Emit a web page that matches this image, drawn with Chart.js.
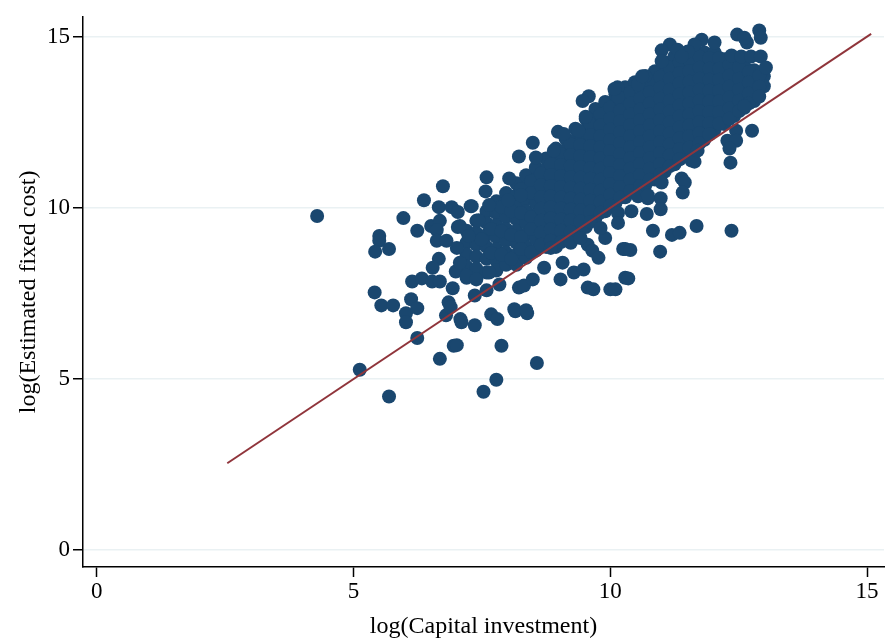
<!DOCTYPE html>
<html>
<head>
<meta charset="utf-8">
<script src="https://cdn.jsdelivr.net/npm/chart.js@4"></script>
<style>
  html, body { margin: 0; padding: 0; background: #fff; }
  #wrap { width: 891px; height: 642px; }
</style>
</head>
<body>
<div id="wrap"><canvas id="scatterChart" width="891" height="642"></canvas></div>
<script>
// axis ticks
const xTicks = [0, 5, 10, 15];
const yTicks = [0, 5, 10, 15];

// 45-degree reference line (x = y), start and end
const fitLine = [2.54, 15.08];

const corePoints = [
  [7.20, 9.33], [7.20, 8.98], [7.20, 8.63], [7.20, 8.28], [7.20, 7.96],
  [7.39, 9.62], [7.39, 9.27], [7.39, 8.92], [7.39, 8.57], [7.39, 8.22],
  [7.59, 9.90], [7.59, 9.56], [7.59, 9.21], [7.59, 8.86], [7.59, 8.51], [7.59, 8.11],
  [7.78, 10.19], [7.78, 9.85], [7.78, 9.50], [7.78, 9.15], [7.78, 8.80], [7.78, 8.46], [7.78, 8.17],
  [7.97, 10.43], [7.97, 10.08], [7.97, 9.73], [7.97, 9.38], [7.97, 9.04], [7.97, 8.69], [7.97, 8.34],
  [8.17, 10.72], [8.17, 10.37], [8.17, 10.02], [8.17, 9.67], [8.17, 9.33], [8.17, 8.98], [8.17, 8.63], [8.17, 8.34],
  [8.36, 10.95], [8.36, 10.60], [8.36, 10.25], [8.36, 9.90], [8.36, 9.56], [8.36, 9.21], [8.36, 8.86], [8.36, 8.54],
  [8.55, 11.18], [8.55, 10.83], [8.55, 10.48], [8.55, 10.14], [8.55, 9.79], [8.55, 9.44], [8.55, 9.09], [8.55, 8.75],
  [8.75, 11.44], [8.75, 11.12], [8.75, 10.80], [8.75, 10.48], [8.75, 10.17], [8.75, 9.85], [8.75, 9.53], [8.75, 9.21], [8.75, 8.86],
  [8.94, 11.73], [8.94, 11.41], [8.94, 11.09], [8.94, 10.77], [8.94, 10.45], [8.94, 10.14], [8.94, 9.82], [8.94, 9.50], [8.94, 9.15], [8.94, 8.86],
  [9.13, 12.02], [9.13, 11.70], [9.13, 11.38], [9.13, 11.06], [9.13, 10.74], [9.13, 10.43], [9.13, 10.11], [9.13, 9.79], [9.13, 9.47], [9.13, 9.12],
  [9.32, 12.31], [9.32, 11.99], [9.32, 11.67], [9.32, 11.35], [9.32, 11.03], [9.32, 10.72], [9.32, 10.40], [9.32, 10.08], [9.32, 9.76], [9.32, 9.44],
  [9.52, 12.60], [9.52, 12.28], [9.52, 11.96], [9.52, 11.64], [9.52, 11.32], [9.52, 11.00], [9.52, 10.69], [9.52, 10.37], [9.52, 10.05], [9.52, 9.73], [9.52, 9.44],
  [9.71, 12.89], [9.71, 12.57], [9.71, 12.25], [9.71, 11.93], [9.71, 11.61], [9.71, 11.29], [9.71, 10.98], [9.71, 10.66], [9.71, 10.34], [9.71, 10.02], [9.71, 9.70],
  [9.90, 13.09], [9.90, 12.77], [9.90, 12.45], [9.90, 12.13], [9.90, 11.82], [9.90, 11.50], [9.90, 11.18], [9.90, 10.86], [9.90, 10.54], [9.90, 10.22], [9.90, 9.90],
  [10.10, 13.32], [10.10, 13.00], [10.10, 12.68], [10.10, 12.37], [10.10, 12.05], [10.10, 11.73], [10.10, 11.41], [10.10, 11.09], [10.10, 10.77], [10.10, 10.45], [10.10, 10.14],
  [10.29, 13.52], [10.29, 13.21], [10.29, 12.89], [10.29, 12.57], [10.29, 12.25], [10.29, 11.93], [10.29, 11.61], [10.29, 11.29], [10.29, 10.98], [10.29, 10.66], [10.29, 10.31],
  [10.48, 13.67], [10.48, 13.35], [10.48, 13.03], [10.48, 12.71], [10.48, 12.40], [10.48, 12.08], [10.48, 11.76], [10.48, 11.44], [10.48, 11.12], [10.48, 10.80], [10.48, 10.48],
  [10.68, 13.84], [10.68, 13.52], [10.68, 13.21], [10.68, 12.89], [10.68, 12.57], [10.68, 12.25], [10.68, 11.93], [10.68, 11.61], [10.68, 11.29], [10.68, 10.98], [10.68, 10.66],
  [10.87, 13.99], [10.87, 13.67], [10.87, 13.35], [10.87, 13.03], [10.87, 12.71], [10.87, 12.40], [10.87, 12.08], [10.87, 11.76], [10.87, 11.44], [10.87, 11.12], [10.87, 10.83],
  [11.06, 14.25], [11.06, 13.93], [11.06, 13.61], [11.06, 13.29], [11.06, 12.97], [11.06, 12.66], [11.06, 12.34], [11.06, 12.02], [11.06, 11.70], [11.06, 11.38], [11.06, 11.06],
  [11.25, 14.42], [11.25, 14.10], [11.25, 13.78], [11.25, 13.47], [11.25, 13.15], [11.25, 12.83], [11.25, 12.51], [11.25, 12.19], [11.25, 11.87], [11.25, 11.56], [11.25, 11.27],
  [11.45, 14.48], [11.45, 14.16], [11.45, 13.84], [11.45, 13.52], [11.45, 13.21], [11.45, 12.89], [11.45, 12.57], [11.45, 12.25], [11.45, 11.93], [11.45, 11.58],
  [11.64, 14.57], [11.64, 14.25], [11.64, 13.93], [11.64, 13.61], [11.64, 13.29], [11.64, 12.97], [11.64, 12.66], [11.64, 12.34], [11.64, 12.02], [11.64, 11.76],
  [11.83, 14.54], [11.83, 14.22], [11.83, 13.90], [11.83, 13.58], [11.83, 13.26], [11.83, 12.95], [11.83, 12.63], [11.83, 12.31], [11.83, 11.99],
  [12.03, 14.54], [12.03, 14.22], [12.03, 13.90], [12.03, 13.58], [12.03, 13.26], [12.03, 12.95], [12.03, 12.63], [12.03, 12.28],
  [12.22, 14.34], [12.22, 14.02], [12.22, 13.70], [12.22, 13.38], [12.22, 13.06], [12.22, 12.74], [12.22, 12.45],
  [12.41, 14.25], [12.41, 13.93], [12.41, 13.61], [12.41, 13.29], [12.41, 12.97], [12.41, 12.68],
  [12.61, 14.13], [12.61, 13.81], [12.61, 13.50], [12.61, 13.18], [12.61, 12.92],
  [12.80, 14.02], [12.80, 13.70], [12.80, 13.38], [12.80, 13.12],
  [12.99, 13.84], [12.99, 13.55]
];

// in-between observations that close the gaps of the core
const coreFill = [
  [7.49, 9.08],
  [7.68, 9.38], [7.68, 8.68],
  [7.88, 10.02], [7.88, 9.32], [7.88, 8.63],
  [8.07, 9.90], [8.07, 9.21], [8.07, 8.51],
  [8.26, 10.55], [8.26, 9.85], [8.26, 9.15], [8.26, 8.80],
  [8.46, 10.78], [8.46, 10.43], [8.46, 9.73], [8.46, 9.38], [8.46, 8.70],
  [8.65, 11.00], [8.65, 10.66], [8.65, 10.31], [8.65, 9.97], [8.65, 9.62], [8.65, 9.27], [8.65, 8.92],
  [8.84, 11.28], [8.84, 10.96], [8.84, 10.64], [8.84, 10.33], [8.84, 10.01], [8.84, 9.69], [8.84, 9.37], [8.84, 9.04],
  [9.04, 11.57], [9.04, 11.25], [9.04, 10.93], [9.04, 10.61], [9.04, 10.30], [9.04, 9.98], [9.04, 9.66], [9.04, 9.33], [9.04, 9.00],
  [9.23, 11.86], [9.23, 11.54], [9.23, 11.22], [9.23, 10.90], [9.23, 10.59], [9.23, 10.27], [9.23, 9.95], [9.23, 9.63], [9.23, 9.30],
  [9.42, 12.15], [9.42, 11.83], [9.42, 11.51], [9.42, 11.19], [9.42, 10.88], [9.42, 10.56], [9.42, 10.24], [9.42, 9.92], [9.42, 9.60],
  [9.61, 12.44], [9.61, 12.12], [9.61, 11.80], [9.61, 11.48], [9.61, 11.16], [9.61, 10.85], [9.61, 10.53], [9.61, 10.21], [9.61, 9.89], [9.61, 9.59],
  [9.81, 12.73], [9.81, 12.41], [9.81, 12.09], [9.81, 11.77], [9.81, 11.45], [9.81, 11.14], [9.81, 10.82], [9.81, 10.50], [9.81, 10.18], [9.81, 9.86],
  [10.00, 12.93], [10.00, 12.61], [10.00, 12.29], [10.00, 11.98], [10.00, 11.66], [10.00, 11.34], [10.00, 11.02], [10.00, 10.70], [10.00, 10.38], [10.00, 10.06],
  [10.19, 13.16], [10.19, 12.84], [10.19, 12.53], [10.19, 12.21], [10.19, 11.89], [10.19, 11.57], [10.19, 11.25], [10.19, 10.93], [10.19, 10.61], [10.19, 10.30],
  [10.39, 13.37], [10.39, 13.05], [10.39, 12.73], [10.39, 12.41], [10.39, 12.09], [10.39, 11.77], [10.39, 11.45], [10.39, 11.14], [10.39, 10.82], [10.39, 10.49],
  [10.58, 13.51], [10.58, 13.19], [10.58, 12.87], [10.58, 12.56], [10.58, 12.24], [10.58, 11.92], [10.58, 11.60], [10.58, 11.28], [10.58, 10.96], [10.58, 10.64],
  [10.77, 13.68], [10.77, 13.37], [10.77, 13.05], [10.77, 12.73], [10.77, 12.41], [10.77, 12.09], [10.77, 11.77], [10.77, 11.45], [10.77, 11.14], [10.77, 10.82],
  [10.97, 13.83], [10.97, 13.51], [10.97, 13.19], [10.97, 12.87], [10.97, 12.56], [10.97, 12.24], [10.97, 11.92], [10.97, 11.60], [10.97, 11.28], [10.97, 10.98],
  [11.16, 14.09], [11.16, 13.77], [11.16, 13.45], [11.16, 13.13], [11.16, 12.82], [11.16, 12.50], [11.16, 12.18], [11.16, 11.86], [11.16, 11.54], [11.16, 11.22],
  [11.35, 14.26], [11.35, 13.94], [11.35, 13.63], [11.35, 13.31], [11.35, 12.99], [11.35, 12.67], [11.35, 12.35], [11.35, 12.03], [11.35, 11.72], [11.35, 11.42],
  [11.54, 14.32], [11.54, 14.00], [11.54, 13.68], [11.54, 13.37], [11.54, 13.05], [11.54, 12.73], [11.54, 12.41], [11.54, 12.09], [11.54, 11.76],
  [11.74, 14.41], [11.74, 14.09], [11.74, 13.77], [11.74, 13.45], [11.74, 13.13], [11.74, 12.82], [11.74, 12.50], [11.74, 12.18], [11.74, 11.89],
  [11.93, 14.38], [11.93, 14.06], [11.93, 13.74], [11.93, 13.42], [11.93, 13.11], [11.93, 12.79], [11.93, 12.47], [11.93, 12.15],
  [12.12, 14.38], [12.12, 14.06], [12.12, 13.74], [12.12, 13.42], [12.12, 13.11], [12.12, 12.79], [12.12, 12.46],
  [12.32, 14.18], [12.32, 13.86], [12.32, 13.54], [12.32, 13.22], [12.32, 12.90], [12.32, 12.60],
  [12.51, 14.09], [12.51, 13.77], [12.51, 13.45], [12.51, 13.13], [12.51, 12.83],
  [12.70, 13.97], [12.70, 13.66], [12.70, 13.34], [12.70, 13.05],
  [12.90, 13.86], [12.90, 13.54], [12.90, 13.25]
];

// scattered observations around the core
const outerPoints = [
  [4.29, 9.76], [5.12, 5.27], [5.69, 4.49], [5.41, 7.53], [5.54, 7.15], [5.77, 7.15],
  [6.02, 6.92], [6.02, 6.66], [6.12, 7.33], [6.24, 7.07], [6.24, 6.20], [6.68, 5.59],
  [6.95, 5.97], [6.37, 10.22], [5.97, 9.70], [6.24, 9.33], [6.66, 10.02], [6.74, 10.63],
  [6.91, 10.02], [7.03, 9.88], [7.03, 9.44], [5.50, 9.18], [5.50, 9.04], [5.42, 8.72],
  [5.69, 8.80], [6.51, 9.47], [6.68, 9.62], [6.62, 9.35], [6.66, 8.51], [6.54, 8.25],
  [6.14, 7.85], [6.33, 7.94], [6.53, 7.85], [6.68, 7.85], [6.93, 7.65], [6.99, 8.14],
  [6.85, 7.24], [6.80, 6.86], [7.08, 6.75], [6.62, 9.04], [6.81, 9.04], [7.01, 8.83],
  [6.89, 7.10], [7.10, 6.66], [7.36, 6.57], [7.68, 6.89], [7.80, 6.75], [7.88, 5.97],
  [8.15, 6.98], [8.38, 6.92], [8.57, 5.47], [7.78, 4.98], [7.53, 4.63], [7.01, 5.99],
  [7.28, 10.05], [8.13, 7.04], [8.36, 7.01], [8.22, 7.67], [8.32, 7.73], [8.49, 7.91],
  [8.71, 8.25], [9.03, 7.91], [9.07, 8.40], [9.29, 8.11], [9.48, 8.20], [9.56, 7.67],
  [9.67, 7.62], [10.00, 7.62], [10.29, 7.96], [9.56, 8.92], [9.65, 8.75], [9.77, 8.54],
  [10.25, 8.80], [10.15, 9.85], [10.15, 9.56], [7.59, 10.89], [8.03, 10.86], [7.57, 10.48],
  [8.01, 10.22], [8.26, 10.37], [7.30, 10.05], [7.64, 10.08], [7.07, 9.47], [7.43, 9.64],
  [7.24, 9.18], [7.07, 8.40], [7.20, 8.02], [7.39, 7.91], [7.64, 8.11], [7.36, 7.44],
  [7.59, 7.59], [7.84, 7.76], [8.84, 8.83], [9.23, 8.98], [9.90, 9.12], [9.81, 9.41],
  [9.42, 9.12],
  [11.58, 11.38], [12.34, 11.32], [11.39, 10.86], [11.45, 10.74], [11.41, 10.45],
  [11.00, 10.74], [10.98, 10.28], [10.98, 9.96], [10.73, 10.28], [10.71, 9.82],
  [10.41, 9.90], [10.83, 9.33], [11.20, 9.21], [11.35, 9.27], [11.68, 9.47],
  [12.36, 9.33], [10.29, 8.80], [10.39, 8.77], [10.97, 8.72], [10.35, 7.94],
  [10.10, 7.62], [10.54, 10.34], [10.73, 10.37],
  [12.61, 12.97], [12.76, 12.25], [12.45, 12.25], [12.28, 11.96], [12.45, 11.96],
  [12.32, 11.73], [11.64, 11.35], [11.70, 11.67],
  [12.47, 15.06], [12.90, 15.18], [12.93, 14.97], [12.66, 14.83], [12.61, 14.97],
  [12.36, 14.45], [12.55, 14.42], [12.74, 14.42], [12.93, 14.42], [13.03, 14.10],
  [12.03, 14.83], [11.78, 14.91], [11.64, 14.77], [11.51, 14.57], [11.16, 14.77],
  [11.31, 14.62], [11.00, 14.60], [11.00, 14.28], [11.39, 14.42], [10.68, 13.84],
  [10.54, 13.61], [10.14, 13.52], [10.15, 13.24],
  [10.08, 13.47], [9.58, 13.26], [9.46, 13.12], [9.52, 12.66], [8.98, 12.22],
  [9.09, 12.16], [8.49, 11.90], [8.22, 11.50], [8.55, 11.47], [8.90, 11.67],
  [9.38, 12.25], [10.62, 13.84]
];

const allPoints = corePoints.concat(coreFill, outerPoints);

const serif = '"Liberation Serif", "Times New Roman", serif';

new Chart(document.getElementById('scatterChart'), {
  type: 'scatter',
  data: {
    datasets: [
      {
        type: 'line',
        data: fitLine.map(v => ({ x: v, y: v })),
        borderColor: '#90353b',
        borderWidth: 2,
        pointRadius: 0,
        fill: false,
        order: 0
      },
      {
        data: allPoints.map(p => ({ x: p[0], y: p[1] })),
        backgroundColor: '#1a476f',
        borderWidth: 0,
        pointRadius: 7,
        order: 1
      }
    ]
  },
  options: {
    responsive: false,
    animation: false,
    layout: { padding: { top: 12, right: 0, left: 0, bottom: 0 } },
    plugins: { legend: { display: false }, tooltip: { enabled: false } },
    scales: {
      x: {
        type: 'linear',
        min: -0.27,
        max: 15.33,
        afterBuildTicks: s => { s.ticks = xTicks.map(v => ({ value: v })); },
        afterFit: s => { s.height = 75; },
        grid: { drawOnChartArea: false, tickLength: 10, tickColor: '#000', tickWidth: 1.5 },
        border: { color: '#000', width: 1.5 },
        ticks: { color: '#000', font: { family: serif, size: 23 }, padding: 1, maxRotation: 0 },
        title: { display: true, text: 'log(Capital investment)', color: '#000',
                 font: { family: serif, size: 24 }, padding: { top: 0, bottom: 1 } }
      },
      y: {
        type: 'linear',
        min: -0.49,
        max: 15.58,
        afterBuildTicks: s => { s.ticks = yTicks.map(v => ({ value: v })); },
        afterFit: s => { s.width = 83; },
        grid: { color: '#eaf1f3', lineWidth: 1.5, tickLength: 10, tickColor: '#000', tickWidth: 1.5 },
        border: { color: '#000', width: 1.5 },
        ticks: { color: '#000', font: { family: serif, size: 23 }, padding: 3 },
        title: { display: true, text: 'log(Estimated fixed cost)', color: '#000',
                 font: { family: serif, size: 24 }, padding: { top: 14, bottom: 0 } }
      }
    }
  }
});
</script>
</body>
</html>
